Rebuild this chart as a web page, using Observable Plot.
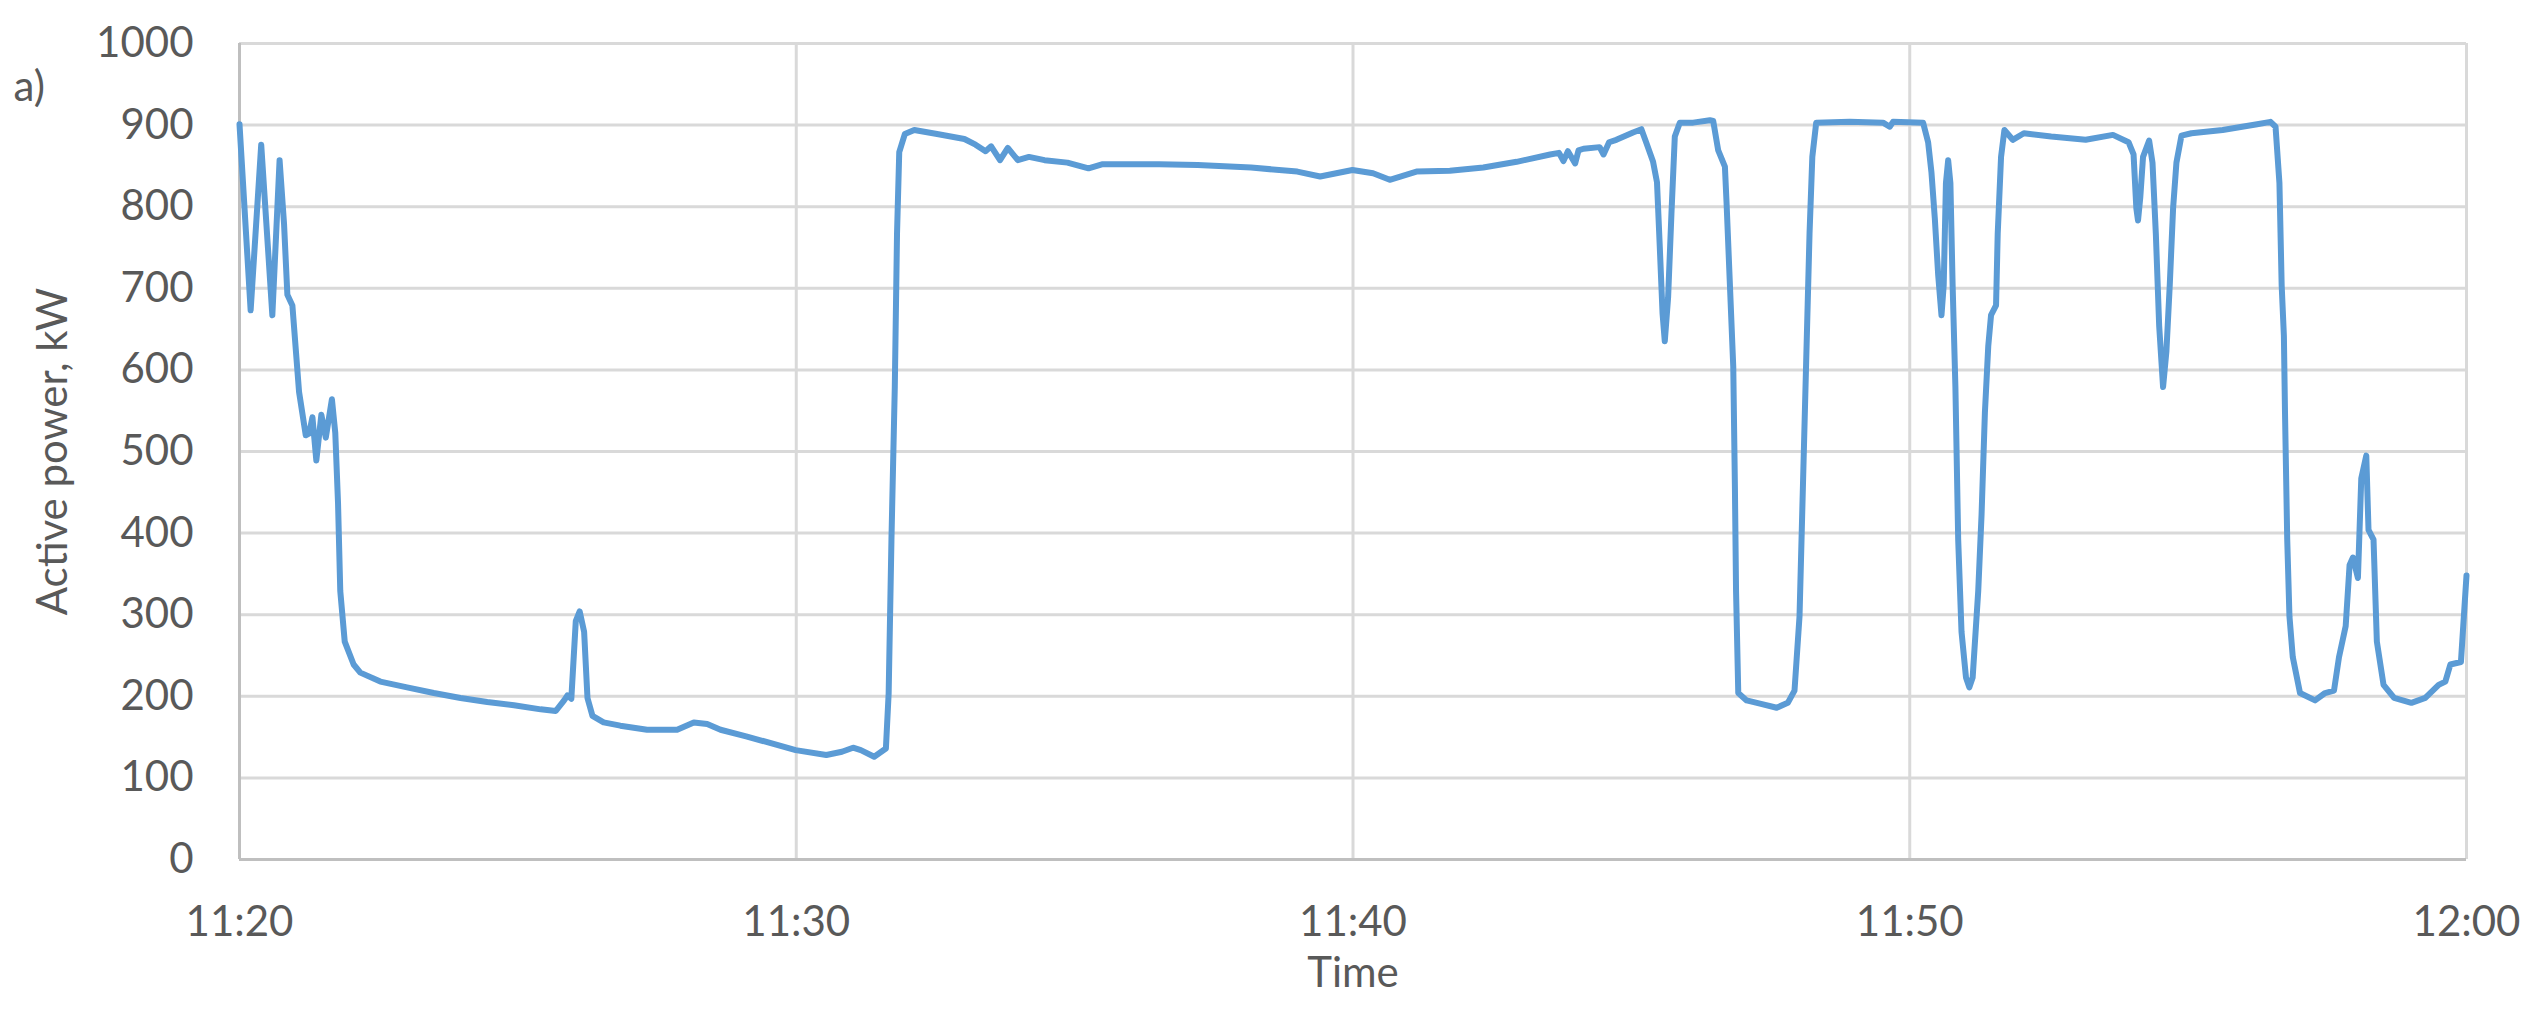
<!DOCTYPE html>
<html><head><meta charset="utf-8">
<script src="https://cdn.jsdelivr.net/npm/d3@7"></script>
<script src="https://cdn.jsdelivr.net/npm/@observablehq/plot@0.6"></script>
<style>html,body{margin:0;padding:0;background:#fff} svg{display:block}</style>
</head><body><div id="chart"></div>
<script>
// minutes after 11:20
const minutesAfter1120 = [
  0.00,0.20,0.39,0.59,0.72,0.80,0.86,0.95,1.07,1.19,1.25,1.31,1.38,1.47,1.55,1.66,1.72,1.77,1.81,1.89,
  2.05,2.17,2.53,3.01,3.49,3.97,4.45,4.93,5.41,5.68,5.83,5.89,5.96,6.04,6.11,6.19,6.25,6.34,6.54,6.84,
  7.32,7.86,8.16,8.40,8.64,9.10,9.99,10.54,10.82,11.02,11.16,11.40,11.61,11.66,11.71,11.77,11.81,11.85,11.95,12.12,
  12.53,13.02,13.22,13.40,13.50,13.66,13.80,13.98,14.18,14.46,14.87,15.25,15.49,15.83,16.52,17.21,18.17,19.00,19.41,19.99,
  20.36,20.66,21.14,21.74,22.34,22.94,23.54,23.70,23.78,23.86,23.99,24.05,24.14,24.43,24.50,24.60,24.73,25.03,25.18,25.27,
  25.39,25.46,25.51,25.56,25.60,25.66,25.72,
  25.78,25.87,26.11,26.41,26.47,26.56,26.68,26.71,26.77,26.83,26.86,26.88,26.92,27.07,27.31,27.61,27.81,27.93,28.02,28.08,
  28.14,28.20,28.25,28.32,28.92,29.52,29.64,29.70,30.24,30.33,30.39,30.45,30.51,30.57,30.61,30.65,30.69,30.73,30.77,30.82,
  30.87,30.93,31.01,31.07,31.13,31.23,31.29,31.35,31.41,31.46,31.55,31.58,31.64,31.70,31.85,32.05,32.54,33.16,33.65,33.93,
  34.02,34.07,34.10,34.14,34.19,34.30,34.36,34.42,34.48,34.55,34.61,34.67,34.73,34.79,34.88,35.06,35.62,36.24,36.48,36.57,
  36.64,36.68,36.72,36.74,36.78,36.82,36.88,37.01,37.28,37.46,37.62,37.71,37.83,37.90,37.96,38.05,38.11,38.20,38.24,38.33,
  38.39,38.51,38.70,39.01,39.26,39.50,39.62,39.71,39.90,40.00
];
const activePowerKW = [
  901,673,876,667,857,779,692,679,573,520,522,542,489,545,517,564,523,436,329,267,
  239,229,218,211,204,198,193,189,184,182,195,201,197,292,304,279,198,176,168,164,
  159,159,168,166,159,151,134,128,132,137,134,126,136,204,392,579,767,867,889,894,
  889,883,876,868,874,857,872,857,861,857,854,847,852,852,852,851,848,843,837,845,
  841,833,843,844,848,855,864,866,856,868,853,869,871,873,864,879,882,891,895,878,
  855,830,751,669,635,689,792,
  886,903,903,906,905,869,849,804,704,604,454,329,204,195,191,186,192,207,298,454,
  611,767,861,903,904,903,898,904,903,879,842,786,717,667,704,829,857,829,704,579,
  392,279,223,211,223,329,423,548,629,667,679,767,861,894,882,890,886,882,888,879,
  864,798,783,811,861,881,854,767,654,579,623,704,798,854,887,890,894,901,904,898,
  829,704,642,548,392,298,248,204,195,204,207,248,286,361,370,345,467,495,404,392,
  267,214,198,192,198,214,218,239,242,348
];
const xTickLabels = ["11:20", "11:30", "11:40", "11:50", "12:00"];
const yTicks = [0, 100, 200, 300, 400, 500, 600, 700, 800, 900, 1000];
const panelLabel = "a)";
const xTitle = "Time";
const yTitle = "Active power, kW";

const base = Date.UTC(2020, 0, 1, 11, 20);
const data = minutesAfter1120.map((m, i) => ({time: new Date(base + m * 60000), power: activePowerKW[i]}));
const xTicks = xTickLabels.map(s => { const [h, mm] = s.split(":").map(Number); return new Date(Date.UTC(2020, 0, 1, h, mm)); });
const fmt = d3.utcFormat("%H:%M");
const FONT = "Lato, 'Open Sans', sans-serif";

const chart = Plot.plot({
  width: 2538, height: 1017,
  marginTop: 43, marginRight: 72, marginBottom: 158, marginLeft: 239,
  style: {fontFamily: FONT, fontSize: "42px", color: "#595959", background: "#ffffff", overflow: "visible"},
  x: {type: "utc", domain: [xTicks[0], xTicks[xTicks.length - 1]], label: null},
  y: {domain: [0, 1000], label: null},
  marks: [
    Plot.gridY(yTicks.filter(d => d > 0), {stroke: "#D9D9D9", strokeOpacity: 1, strokeWidth: 3}),
    Plot.gridX(xTicks.slice(1), {stroke: "#D9D9D9", strokeOpacity: 1, strokeWidth: 3}),
    Plot.ruleY([0], {stroke: "#BFBFBF", strokeWidth: 3}),
    Plot.ruleX([xTicks[0]], {stroke: "#BFBFBF", strokeWidth: 3}),
    Plot.axisY(yTicks, {tickSize: 0, tickPadding: 46, fontSize: 42, tickFormat: d => String(d), label: null}),
    Plot.axisX(xTicks, {tickSize: 0, tickPadding: 47, fontSize: 42, tickFormat: fmt, label: null}),
    Plot.line(data, {x: "time", y: "power", stroke: "#5B9BD5", strokeWidth: 6, strokeLinejoin: "round", strokeLinecap: "round"}),
    Plot.text([xTitle], {frameAnchor: "bottom", lineAnchor: "middle", textAnchor: "middle", dy: 114, fontSize: 42, fill: "#595959"}),
    Plot.text([yTitle], {frameAnchor: "left", lineAnchor: "middle", textAnchor: "middle", rotate: -90, dx: -186, fontSize: 42, fill: "#595959"}),
    Plot.text([panelLabel], {frameAnchor: "top-left", lineAnchor: "middle", textAnchor: "start", dx: -226, dy: 44, fontSize: 42, fill: "#595959"})
  ]
});
document.getElementById("chart").appendChild(chart);
</script>
</body></html>
